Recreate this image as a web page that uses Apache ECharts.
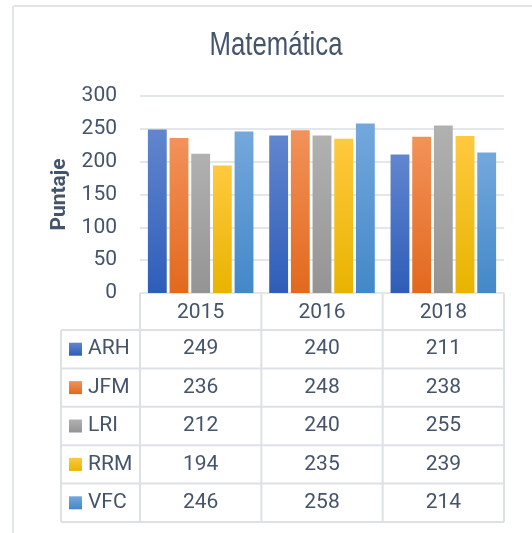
<!DOCTYPE html>
<html>
<head>
<meta charset="utf-8">
<script src="https://cdn.jsdelivr.net/npm/echarts@6/dist/echarts.min.js"></script>
<style>
html, body { margin: 0; padding: 0; background: #fff; }
#chart { width: 532px; height: 533px; }
</style>
</head>
<body>
<div id="chart"></div>
<script>
var years = ['2015', '2016', '2018'];
var names = ['ARH', 'JFM', 'LRI', 'RRM', 'VFC'];
var ARH = [249, 240, 211];
var JFM = [236, 248, 238];
var LRI = [212, 240, 255];
var RRM = [194, 235, 239];
var VFC = [246, 258, 214];
var yTicks = [0, 50, 100, 150, 200, 250, 300];

var values = [ARH, JFM, LRI, RRM, VFC];
// colores de arriba / abajo (degradado tipo Excel)
var topColors = ['#6286ce', '#f2925a', '#b1b1b1', '#ffc93f', '#74a8dc'];
var botColors = ['#2e5db9', '#e2691d', '#949494', '#e8b400', '#4388c8'];

var textColor = '#44546a';
var lineColor = '#dde1e6';
var font = 'Roboto';

// geometria
var gLeft = 140, gTop = 96, gRight = 504, gBottom = 293;
var colW = (gRight - gLeft) / years.length;
var headBottom = 330, rowH = 38.4, tableLeft = 61;

var series = [];
for (var i = 0; i < names.length; i++) {
    series.push({
        name: names[i],
        type: 'bar',
        data: values[i],
        barGap: '15%',
        barCategoryGap: '13%',
        itemStyle: {
            color: new echarts.graphic.LinearGradient(0, 0, 0, 1, [
                { offset: 0, color: topColors[i] },
                { offset: 1, color: botColors[i] }
            ])
        }
    });
}

var graphic = [];
// titulo (letra estrecha)
graphic.push({
    type: 'text', x: 276, y: 46, scaleX: 0.78,
    style: { text: 'Matemática', fill: textColor, font: '33px "Liberation Sans"', textAlign: 'center', textVerticalAlign: 'middle' }
});
// marco exterior
graphic.push({ type: 'line', shape: { x1: 13, y1: 6, x2: 532, y2: 6 }, style: { stroke: '#e2e5ea', lineWidth: 2 } });
graphic.push({ type: 'line', shape: { x1: 13, y1: 6, x2: 13, y2: 533 }, style: { stroke: '#e2e5ea', lineWidth: 2 } });

var tableBottom = headBottom + rowH * names.length;
// lineas horizontales de la tabla
graphic.push({ type: 'line', shape: { x1: gLeft, y1: gBottom, x2: gRight, y2: gBottom }, style: { stroke: lineColor, lineWidth: 2 } });
for (var r = 0; r <= names.length; r++) {
    var yy = headBottom + r * rowH;
    graphic.push({ type: 'line', shape: { x1: tableLeft, y1: yy, x2: gRight, y2: yy }, style: { stroke: lineColor, lineWidth: 2 } });
}
// lineas verticales
graphic.push({ type: 'line', shape: { x1: tableLeft, y1: headBottom, x2: tableLeft, y2: tableBottom }, style: { stroke: lineColor, lineWidth: 2 } });
for (var c = 0; c <= years.length; c++) {
    var xx = gLeft + c * colW;
    graphic.push({ type: 'line', shape: { x1: xx, y1: gBottom, x2: xx, y2: tableBottom }, style: { stroke: lineColor, lineWidth: 2 } });
}
// filas: leyenda + valores
for (var r = 0; r < names.length; r++) {
    var cy = headBottom + r * rowH + rowH / 2;
    graphic.push({
        type: 'rect',
        shape: { x: 69, y: cy - 6.5, width: 13, height: 13 },
        style: {
            fill: new echarts.graphic.LinearGradient(0, 0, 0, 1, [
                { offset: 0, color: topColors[r] },
                { offset: 1, color: botColors[r] }
            ])
        }
    });
    graphic.push({
        type: 'text', x: 88, y: cy,
        style: { text: names[r], fill: textColor, font: '21px ' + font, textAlign: 'left', textVerticalAlign: 'middle' }
    });
    for (var c = 0; c < years.length; c++) {
        graphic.push({
            type: 'text', x: gLeft + c * colW + colW / 2, y: cy,
            style: { text: String(values[r][c]), fill: textColor, font: '21px ' + font, textAlign: 'center', textVerticalAlign: 'middle' }
        });
    }
}

var option = {
    backgroundColor: '#fff',
    animation: false,
    grid: {
        left: gLeft,
        top: gTop,
        width: gRight - gLeft,
        height: gBottom - gTop,
        containLabel: false
    },
    xAxis: {
        type: 'category',
        data: years,
        axisLine: { show: false },
        axisTick: { show: false },
        axisLabel: {
            color: textColor,
            fontFamily: font,
            fontSize: 21,
            margin: 9
        }
    },
    yAxis: {
        type: 'value',
        min: yTicks[0],
        max: yTicks[yTicks.length - 1],
        interval: 50,
        name: 'Puntaje',
        nameLocation: 'middle',
        nameRotate: 90,
        nameGap: 64,
        nameTextStyle: {
            color: textColor,
            fontFamily: font,
            fontSize: 21,
            fontWeight: 'bold'
        },
        axisLine: { show: false },
        axisTick: { show: false },
        axisLabel: {
            color: textColor,
            fontFamily: font,
            fontSize: 21,
            margin: 23
        },
        splitLine: { lineStyle: { color: '#e3e6eb', width: 2 } }
    },
    series: series,
    graphic: graphic
};

var chart = echarts.init(document.getElementById('chart'));
chart.setOption(option);
</script>
</body>
</html>
